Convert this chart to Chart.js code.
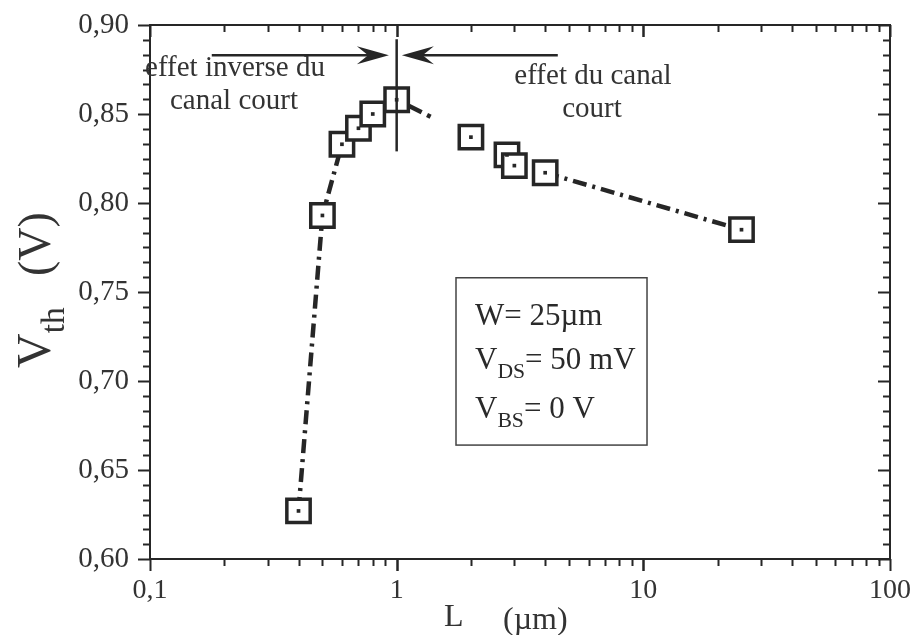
<!DOCTYPE html>
<html>
<head>
<meta charset="utf-8">
<script src="https://cdn.jsdelivr.net/npm/chart.js@4"></script>
<style>
  body { margin: 0; background: #fff; }
  #wrap { width: 912px; height: 635px; position: relative; }
</style>
</head>
<body>
<div id="wrap"><canvas id="myChart"></canvas></div>
<script>
// values
const lengths = [0.4, 0.5, 0.6, 0.7, 0.8, 1.0, 2.0, 2.8, 3.0, 4.0, 25];
const vth = [0.627, 0.793, 0.833, 0.842, 0.850, 0.858, 0.837, 0.827, 0.821, 0.817, 0.785];
const xLabels = [0.1, 1, 10, 100];
const yLabels = [0.60, 0.65, 0.70, 0.75, 0.80, 0.85, 0.90];

const ink = '#262626';
const serif = '"Liberation Serif", "Times New Roman", serif';

const points = lengths.map((l, i) => ({x: l, y: vth[i]}));

// annotations, in data units
const divider = {x: 1, y1: 0.892, y2: 0.829};
const arrowLeft = {from: 0.178, to: 0.93, y: 0.883};
const arrowRight = {from: 4.5, to: 1.05, y: 0.883};
const infoBox = {x1: 1.74, x2: 10.35, y1: 0.758, y2: 0.664};

function drawParts(ctx, parts, x, y, size) {
    // parts: [text, isSubscript]
    let cx = x;
    parts.forEach(p => {
        const s = p[1] ? size * 0.7 : size;
        ctx.font = s + 'px ' + serif;
        ctx.fillText(p[0], cx, p[1] ? y + size * 0.3 : y);
        cx += ctx.measureText(p[0]).width;
    });
    return cx - x;
}

function arrow(ctx, x0, x1, y) {
    const dir = x1 > x0 ? 1 : -1;
    const headLen = 32, headW = 9;
    ctx.beginPath();
    ctx.moveTo(x0, y);
    ctx.lineTo(x1 - dir * headLen * 0.6, y);
    ctx.stroke();
    ctx.beginPath();
    ctx.moveTo(x1, y);
    ctx.lineTo(x1 - dir * headLen, y - headW);
    ctx.lineTo(x1 - dir * headLen * 0.65, y);
    ctx.lineTo(x1 - dir * headLen, y + headW);
    ctx.closePath();
    ctx.fill();
}

const decor = {
    id: 'decor',
    afterDraw(chart) {
        const ctx = chart.ctx;
        const a = chart.chartArea;
        const xs = chart.scales.x, ys = chart.scales.y;
        ctx.save();
        ctx.strokeStyle = ink;
        ctx.fillStyle = ink;
        ctx.lineWidth = 2;

        // frame
        ctx.strokeRect(a.left, a.top, a.right - a.left, a.bottom - a.top);

        // y ticks: outward on the left, inward on the right
        for (let k = 0; k <= 36; k++) {
            const v = 0.6 + k * 0.05 / 6;
            const py = Math.round(ys.getPixelForValue(v)) + 0.5;
            const len = k % 6 === 0 ? 12 : 7;
            ctx.beginPath();
            ctx.moveTo(a.left, py); ctx.lineTo(a.left - len, py);
            ctx.moveTo(a.right, py); ctx.lineTo(a.right - len, py);
            ctx.stroke();
        }
        // x ticks: outward at the bottom, inward at the top
        [0.1, 1, 10].forEach(d => {
            for (let m = 1; m <= 10; m++) {
                const px = Math.round(xs.getPixelForValue(m * d)) + 0.5;
                const len = (m === 1 || m === 10) ? 12 : 7;
                ctx.beginPath();
                ctx.moveTo(px, a.bottom); ctx.lineTo(px, a.bottom + len);
                ctx.moveTo(px, a.top); ctx.lineTo(px, a.top + len);
                ctx.stroke();
            }
        });

        // vertical divider at L = 1 µm
        ctx.lineWidth = 2.5;
        const dx = xs.getPixelForValue(divider.x);
        ctx.beginPath();
        ctx.moveTo(dx, ys.getPixelForValue(divider.y1));
        ctx.lineTo(dx, ys.getPixelForValue(divider.y2));
        ctx.stroke();

        // arrows
        arrow(ctx, xs.getPixelForValue(arrowLeft.from), xs.getPixelForValue(arrowLeft.to), ys.getPixelForValue(arrowLeft.y));
        arrow(ctx, xs.getPixelForValue(arrowRight.from), xs.getPixelForValue(arrowRight.to), ys.getPixelForValue(arrowRight.y));

        // labels for the two regions
        ctx.fillStyle = '#333';
        ctx.textAlign = 'center';
        ctx.textBaseline = 'alphabetic';
        ctx.font = '29px ' + serif;
        ctx.fillText('effet inverse du', 235, 76);
        ctx.fillText('canal court', 234, 109);
        ctx.fillText('effet du canal', 593, 84);
        ctx.fillText('court', 592, 117);

        // info box
        const bx1 = xs.getPixelForValue(infoBox.x1), bx2 = xs.getPixelForValue(infoBox.x2);
        const by1 = ys.getPixelForValue(infoBox.y1), by2 = ys.getPixelForValue(infoBox.y2);
        ctx.lineWidth = 1.5;
        ctx.strokeStyle = '#444';
        ctx.strokeRect(bx1, by1, bx2 - bx1, by2 - by1);
        ctx.textAlign = 'left';
        ctx.fillStyle = '#2a2a2a';
        drawParts(ctx, [['W= 25\u00b5m', false]], bx1 + 19, by1 + 47, 31);
        drawParts(ctx, [['V', false], ['DS', true], ['= 50 mV', false]], bx1 + 19, by1 + 91, 31);
        drawParts(ctx, [['V', false], ['BS', true], ['= 0 V', false]], bx1 + 19, by1 + 140, 31);

        // axis titles
        ctx.fillStyle = '#333';
        ctx.font = '32px ' + serif;
        ctx.fillText('L', 444, 626);
        ctx.fillText('(\u00b5m)', 503, 629);

        ctx.translate(50, 0);
        ctx.rotate(-Math.PI / 2);
        drawParts(ctx, [['V', false], ['th', true]], -368, 0, 48);
        ctx.font = '46px ' + serif;
        ctx.fillText('(V)', -276, 0);
        ctx.restore();
    }
};

// dash pattern per segment: the fit fades out after 1 µm and resumes at 4 µm
function segDash(c) {
    if (c.p0DataIndex === 5) return [28, 6, 4, 400];
    if (c.p0DataIndex >= 6 && c.p0DataIndex <= 8) return [0, 1000];
    return undefined;
}

const ctx = document.getElementById('myChart').getContext('2d');
const chart = new Chart(ctx, {
    type: 'scatter',
    data: {
        datasets: [{
            // dash-dot trend line
            data: points,
            showLine: true,
            borderColor: ink,
            borderWidth: 4.5,
            borderDash: [14, 6, 3, 6],
            segment: { borderDash: segDash },
            pointRadius: 0,
            order: 3
        }, {
            // open squares
            data: points,
            pointStyle: 'rect',
            pointRadius: 16.5,
            pointBorderWidth: 3.5,
            pointBorderColor: ink,
            pointBackgroundColor: '#fff',
            order: 2
        }, {
            // dots inside the squares
            data: points,
            pointStyle: 'rect',
            pointRadius: 2.6,
            pointBorderWidth: 0,
            pointBackgroundColor: ink,
            order: 1
        }]
    },
    options: {
        responsive: true,
        maintainAspectRatio: false,
        animation: false,
        events: [],
        layout: { padding: { left: 0, top: 25, right: 22, bottom: 0 } },
        plugins: { legend: { display: false }, tooltip: { enabled: false } },
        scales: {
            x: {
                type: 'logarithmic',
                min: 0.1,
                max: 100,
                afterBuildTicks: s => { s.ticks = xLabels.map(v => ({value: v, major: true})); },
                afterFit: s => { s.height = 76; s.paddingLeft = 0; s.paddingRight = 0; },
                grid: { display: false, drawTicks: false },
                border: { display: false },
                ticks: {
                    autoSkip: false,
                    maxRotation: 0,
                    padding: 15,
                    color: '#333',
                    font: { family: serif, size: 28 },
                    callback: v => String(v).replace('.', ',')
                }
            },
            y: {
                min: 0.6,
                max: 0.9,
                afterBuildTicks: s => { s.ticks = yLabels.map(v => ({value: v})); },
                afterFit: s => { s.width = 150; s.paddingTop = 0; s.paddingBottom = 0; },
                grid: { display: false, drawTicks: false },
                border: { display: false },
                ticks: {
                    padding: 21,
                    color: '#333',
                    font: { family: serif, size: 29 },
                    callback: v => v.toFixed(2).replace('.', ',')
                }
            }
        }
    },
    plugins: [decor]
});
</script>
</body>
</html>
